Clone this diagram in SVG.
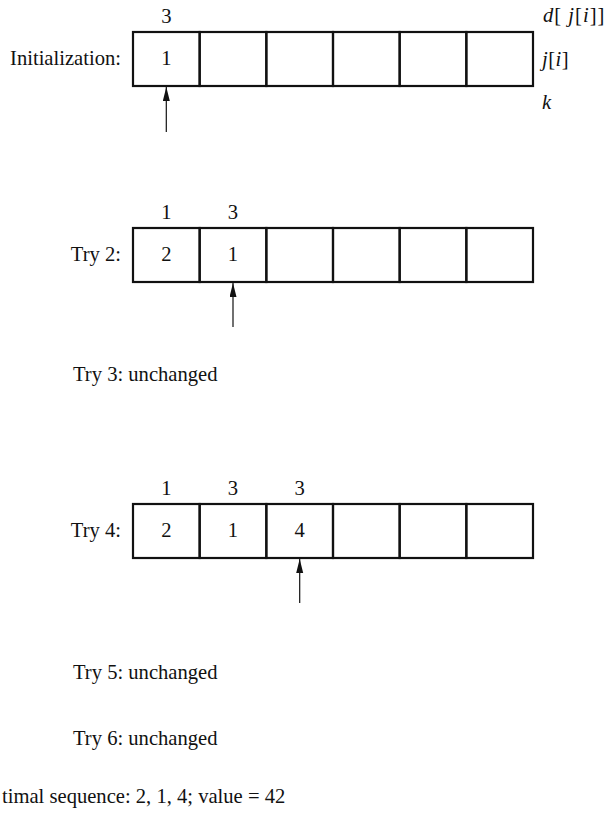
<svg xmlns="http://www.w3.org/2000/svg" width="611" height="819" viewBox="0 0 611 819">
<style>
text{font-family:"Liberation Serif","Times New Roman",serif;font-size:20.6px;fill:#111}
.c{text-anchor:middle}
.e{text-anchor:end}
.i{font-style:italic}
.cell{fill:none;stroke:#111;stroke-width:2.2}
.arr{stroke:#111;stroke-width:1.2;fill:none;marker-end:url(#ah)}
</style>
<defs>
<marker id="ah" markerUnits="userSpaceOnUse" markerWidth="15" markerHeight="8" refX="14" refY="3.5" orient="auto">
<path d="M0,0 L14,3.5 L0,7 z" fill="#111"/>
</marker>
</defs>
<rect width="611" height="819" fill="#fff"/>

<g id="row-init">
<text class="e" x="121" y="65">Initialization:</text>
<rect class="cell" x="133" y="32" width="66.67" height="54"/>
<rect class="cell" x="199.67" y="32" width="66.67" height="54"/>
<rect class="cell" x="266.33" y="32" width="66.67" height="54"/>
<rect class="cell" x="333" y="32" width="66.67" height="54"/>
<rect class="cell" x="399.67" y="32" width="66.67" height="54"/>
<rect class="cell" x="466.33" y="32" width="66.67" height="54"/>
<text class="c" x="166.3" y="23">3</text>
<text class="c" x="166.3" y="65">1</text>
<text class="i" x="543" y="22" letter-spacing="1">d<tspan font-style="normal">[</tspan> j<tspan font-style="normal">[</tspan>i<tspan font-style="normal">]]</tspan></text>
<text class="i" x="542" y="66" letter-spacing="0.5">j<tspan font-style="normal">[</tspan>i<tspan font-style="normal">]</tspan></text>
<text class="i" x="542" y="109">k</text>
</g>

<g id="row-try2">
<text class="e" x="121" y="261">Try 2:</text>
<rect class="cell" x="133" y="228" width="66.67" height="54"/>
<rect class="cell" x="199.67" y="228" width="66.67" height="54"/>
<rect class="cell" x="266.33" y="228" width="66.67" height="54"/>
<rect class="cell" x="333" y="228" width="66.67" height="54"/>
<rect class="cell" x="399.67" y="228" width="66.67" height="54"/>
<rect class="cell" x="466.33" y="228" width="66.67" height="54"/>
<text class="c" x="166.3" y="219">1</text>
<text class="c" x="233" y="219">3</text>
<text class="c" x="166.3" y="261">2</text>
<text class="c" x="233" y="261">1</text>
</g>

<g id="try3">
<text x="73" y="381">Try 3: unchanged</text>
</g>

<g id="row-try4">
<text class="e" x="121" y="537">Try 4:</text>
<rect class="cell" x="133" y="504" width="66.67" height="54"/>
<rect class="cell" x="199.67" y="504" width="66.67" height="54"/>
<rect class="cell" x="266.33" y="504" width="66.67" height="54"/>
<rect class="cell" x="333" y="504" width="66.67" height="54"/>
<rect class="cell" x="399.67" y="504" width="66.67" height="54"/>
<rect class="cell" x="466.33" y="504" width="66.67" height="54"/>
<text class="c" x="166.3" y="495">1</text>
<text class="c" x="233" y="495">3</text>
<text class="c" x="299.7" y="495">3</text>
<text class="c" x="166.3" y="537">2</text>
<text class="c" x="233" y="537">1</text>
<text class="c" x="299.7" y="537">4</text>
</g>

<g id="try5"><text x="73" y="679">Try 5: unchanged</text></g>
<g id="try6"><text x="73" y="745">Try 6: unchanged</text></g>
<g id="result"><text x="2" y="803">timal sequence: 2, 1, 4; value = 42</text></g>

<g id="connectors">
<line class="arr" x1="166.3" y1="132" x2="166.3" y2="87"/>
<line class="arr" x1="233" y1="327" x2="233" y2="283"/>
<line class="arr" x1="299.7" y1="603" x2="299.7" y2="559"/>
</g>
</svg>
